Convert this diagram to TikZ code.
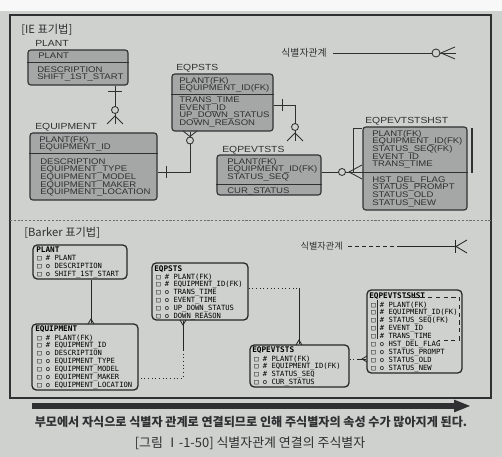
\documentclass[tikz,border=0pt]{standalone}
\usepackage{fontspec}
\setmainfont{Liberation Sans}
\newfontfamily\iefont[FakeStretch=1.17]{Liberation Sans}
\newfontfamily\barkerfont{DejaVu Sans Mono}
\newfontfamily\hangul{Noto Sans CJK KR}
\usetikzlibrary{fit,arrows.meta}

\definecolor{paper}{RGB}{206,209,206}
\definecolor{boxgray}{RGB}{164,167,166}
\definecolor{ink}{RGB}{48,48,50}

\begin{document}
\begin{tikzpicture}[x=0.025cm, y=-0.025cm,
  iebox/.style={draw=ink, line width=0.8pt, fill=boxgray, rounded corners=2pt, inner sep=0pt},
  bkbox/.style={draw=black!85, line width=0.9pt, rounded corners=3pt, inner sep=0pt},
  ietext/.style={anchor=north west, inner sep=0pt, align=left, text=ink, font=\iefont\fontsize{5.8}{5.45}\selectfont},
  ielabel/.style={anchor=west, inner sep=0pt, text=ink, font=\iefont\fontsize{6.3}{7}\selectfont},
  bktext/.style={anchor=north west, inner sep=0pt, align=left, text=black, font=\barkerfont\fontsize{5.1}{5.65}\selectfont},
  bktitle/.style={anchor=north west, inner sep=0pt, text=black, font=\barkerfont\bfseries\fontsize{5.5}{6}\selectfont},
  rel/.style={draw=ink, line width=0.6pt},
  bkrel/.style={draw=black!85, line width=0.6pt}]

\useasboundingbox (0,0) rectangle (502,457);
\fill[paper] (0,0) rectangle (502,457);
\fill[white!85!paper] (0,0) rectangle (502,11);

% frame
\draw[ink, line width=0.8pt] (10,15) rectangle (491,398);
\draw[ink!70, dash pattern=on 1.5pt off 1.2pt, line width=0.5pt] (10,220) -- (491,220);

% IE
\node[anchor=west, inner sep=0pt, text=ink, font=\hangul\fontsize{8}{9}\selectfont] (ietitle) at (21,30) {[IE 표기법]};

\node[ielabel] (plantlbl) at (35,43) {PLANT};
\node[iebox, fit={(28,50) (128,85)}] (plant) {};
\draw[ink, line width=0.7pt] (plant.west |- 0,62) -- (plant.east |- 0,62);
\node[ietext] (plantpk) at (38,53.1) {PLANT};
\node[ietext] (plantattr) at (37,66.1) {DESCRIPTION\\SHIFT\_1ST\_START};

\node[ielabel] (equiplbl) at (35,127) {EQUIPMENT};
\node[iebox, fit={(30,133) (157,200)}] (equipment) {};
\draw[ink, line width=0.7pt] (equipment.west |- 0,153) -- (equipment.east |- 0,153);
\node[ietext] (equippk) at (39,136.1) {PLANT(FK)\\EQUIPMENT\_ID};
\node[ietext] (equipattr) at (40,158.1) {DESCRIPTION\\EQUIPMENT\_TYPE\\EQUIPMENT\_MODEL\\EQUIPMENT\_MAKER\\EQUIPMENT\_LOCATION};

\node[ielabel] (eqpstslbl) at (176,68) {EQPSTS};
\node[iebox, fit={(172,74) (273,131)}] (eqpsts) {};
\draw[ink, line width=0.7pt] (eqpsts.west |- 0,94.5) -- (eqpsts.east |- 0,94.5);
\node[ietext] (eqpstspk) at (179,77.1) {PLANT(FK)\\EQUIPMENT\_ID(FK)};
\node[ietext] (eqpstsattr) at (179,96.4) {TRANS\_TIME\\EVENT\_ID\\UP\_DOWN\_STATUS\\DOWN\_REASON};

\node[ielabel] (eqpevtstslbl) at (222,150) {EQPEVTSTS};
\node[iebox, fit={(217,155) (321,195)}] (eqpevtsts) {};
\draw[ink, line width=0.7pt] (eqpevtsts.west |- 0,184.5) -- (eqpevtsts.east |- 0,184.5);
\node[ietext] (eqpevtstspk) at (227,158.1) {PLANT(FK)\\EQUIPMENT\_ID(FK)\\STATUS\_SEQ};
\node[ietext] (eqpevtstsattr) at (227,187.1) {CUR\_STATUS};

\node[ielabel] (hstlbl) at (365,121) {EQPEVTSTSHST};
\node[iebox, fit={(363,127) (467,210)}] (eqpevtstshst) {};
\draw[ink, line width=0.7pt] (eqpevtstshst.west |- 0,172.5) -- (eqpevtstshst.east |- 0,172.5);
\node[ietext] (hstpk) at (372,130.1) {PLANT(FK)\\EQUIPMENT\_ID(FK)\\STATUS\_SEQ(FK)\\EVENT\_ID\\TRANS\_TIME};
\node[ietext] (hstattr) at (372,176.1) {HST\_DEL\_FLAG\\STATUS\_PROMPT\\STATUS\_OLD\\STATUS\_NEW};

% IE relations
\coordinate (peend) at (115,124);
\draw[rel] (plant.south -| peend) -- (peend);
\draw[rel] (108,91) -- (122,91);
\draw[rel, fill=paper] (115,110) circle [radius=3.5];
\draw[rel] (107,124) -- (115,116) -- (123,124);

\coordinate (seknee) at (190,172);
\draw[rel] (eqpsts.south -| seknee) -- (seknee) -- (equipment.east |- seknee);
\draw[rel] (183,131) -- (190,136.5) -- (197,131);
\draw[rel, fill=paper] (190,140.5) circle [radius=3.5];
\draw[rel] (166,166) -- (166,178);

\coordinate (sevend) at (295,141);
\draw[rel] (eqpsts.east |- 0,105) -| (sevend);
\draw[rel] (282,99) -- (282,111);
\draw[rel, fill=paper] (295,127) circle [radius=3.5];
\draw[rel] (287,141) -- (295,133) -- (303,141);

\draw[rel] (eqpevtsts.east |- 0,172) -- (eqpevtstshst.west |- 0,172);
\draw[rel, fill=paper] (342,172) circle [radius=3.5];
\draw[rel] (362,165) -- (349,172) -- (362,179);
\draw[rel] (353,173) -- (353,128) -- (eqpevtstshst.west |- 0,128);
\draw[ink, line width=0.9pt] (472,128) -- (472,173);

% IE legend
\node[anchor=east, inner sep=0pt, text=ink, font=\hangul\fontsize{7}{8}\selectfont] (ielegend) at (327,53) {식별자관계};
\coordinate (ielegendend) at (456,53);
\draw[rel] ([xshift=4.3pt]ielegend.east) -- (ielegendend);
\draw[rel, fill=paper] (436,53) circle [radius=4];
\draw[rel] (455,47) -- (441,53) -- (455,59);

% Barker
\node[anchor=west, inner sep=0pt, text=ink, font=\hangul\fontsize{8}{9}\selectfont] (barkertitle) at (24,233) {[Barker 표기법]};

\node[bkbox, fit={(33,245) (127,279)}] (bplant) {};
\node[bktitle] (bplanttitle) at (36,246.3) {PLANT};
\node[bktext] (bplantrows) at (37,255.3) {□ \# PLANT\\□ o DESCRIPTION\\□ o SHIFT\_1ST\_START};

\node[bkbox, fit={(32,324) (138,390)}] (bequipment) {};
\node[bktitle] (bequiptitle) at (35,325.5) {EQUIPMENT};
\node[bktext] (bequiprows) at (37,334.3) {□ \# PLANT(FK)\\□ \# EQUIPMENT\_ID\\□ o DESCRIPTION\\□ o EQUIPMENT\_TYPE\\□ o EQUIPMENT\_MODEL\\□ o EQUIPMENT\_MAKER\\□ o EQUIPMENT\_LOCATION};

\node[bkbox, fit={(152,263) (248,320)}] (beqpsts) {};
\node[bktitle] (beqpststitle) at (154,265.3) {EQPSTS};
\node[bktext] (beqpstsrows) at (156,273.3) {□ \# PLANT(FK)\\□ \# EQUIPMENT\_ID(FK)\\□ o TRANS\_TIME\\□ o EVENT\_TIME\\□ o UP\_DOWN\_STATUS\\□ o DOWN\_REASON};

\node[bkbox, fit={(250,345) (349,387)}] (beqpevtsts) {};
\node[bktitle] (beqpevtststitle) at (252,346.5) {EQPEVTSTS};
\node[bktext] (beqpevtstsrows) at (254,355.3) {□ \# PLANT(FK)\\□ \# EQUIPMENT\_ID(FK)\\□ \# STATUS\_SEQ\\□ o CUR\_STATUS};

\node[bkbox, fit={(367,290) (462,373)}] (beqpevtstshst) {};
\node[bktitle] (bhsttitle) at (369,292.3) {EQPEVTSTSHST};
\node[bktext] (bhstrows) at (371,301.3) {□ \# PLANT(FK)\\□ \# EQUIPMENT\_ID(FK)\\□ \# STATUS\_SEQ(FK)\\□ \# EVENT\_ID\\□ \# TRANS\_TIME\\□ o HST\_DEL\_FLAG\\□ o STATUS\_PROMPT\\□ o STATUS\_OLD\\□ o STATUS\_NEW};
\draw[bkrel, dash pattern=on 3pt off 2.5pt] (405,297) -- (459,297) -- (459,340) -- (438,340);
\draw[bkrel] (377.5,300) -- (377.5,339);

% Barker relations
\coordinate (bpeline) at (91,0);
\draw[bkrel] (bplant.south -| bpeline) -- (bequipment.north -| bpeline);
\draw[bkrel] (88,324) -- (91,319) -- (94,324);

\coordinate (bseknee) at (183,378);
\coordinate (bsemid) at (183,350);
\draw[bkrel] (beqpsts.south -| bseknee) -- (bsemid);
\draw[bkrel, dotted] (bsemid) -- (bseknee) -- (bequipment.east |- bseknee);
\draw[bkrel] (180,320) -- (183,325) -- (186,320);

\coordinate (bsevknee) at (299,288);
\draw[bkrel, dotted] (beqpsts.east |- bsevknee) -- (bsevknee);
\draw[bkrel] (bsevknee) -- (beqpevtsts.north -| bsevknee);
\draw[bkrel] (296,345) -- (299,340) -- (302,345);

\coordinate (bvhmid) at (358,359);
\draw[bkrel, dotted] (beqpevtsts.east |- bvhmid) -- (bvhmid);
\draw[bkrel] (bvhmid) -- (beqpevtstshst.west |- bvhmid);
\draw[bkrel] (367,356) -- (362,359) -- (367,362);

% Barker legend
\node[anchor=east, inner sep=0pt, text=ink, font=\hangul\fontsize{6.5}{7}\selectfont] (bklegend) at (343,246) {식별자관계};
\coordinate (bklegendmid) at (397,246);
\coordinate (bklegendend) at (457,246);
\draw[bkrel, dash pattern=on 3pt off 2pt] ([xshift=3.5pt]bklegend.east) -- (bklegendmid);
\draw[bkrel] (bklegendmid) -- (bklegendend);
\draw[bkrel] (455,240) -- (455,253);
\draw[bkrel] (467,240) -- (456,246.5) -- (467,253);

% bottom
\coordinate (arrowstart) at (32,406);
\coordinate (arrowend) at (471,406);
\draw[ink, line width=3.6pt, -{Triangle[length=12pt,width=8pt]}] (arrowstart) -- (arrowend);
\node[text=ink, font=\hangul\bfseries\fontsize{8.6}{9}\selectfont] (note) at (251,422) {부모에서 자식으로 식별자 관계로 연결되므로 인해 주식별자의 속성 수가 많아지게 된다.};
\node[text=ink, font=\hangul\fontsize{9.2}{10}\selectfont] (caption) at (250,443) {[그림 Ⅰ-1-50] 식별자관계 연결의 주식별자};
\end{tikzpicture}
\end{document}
